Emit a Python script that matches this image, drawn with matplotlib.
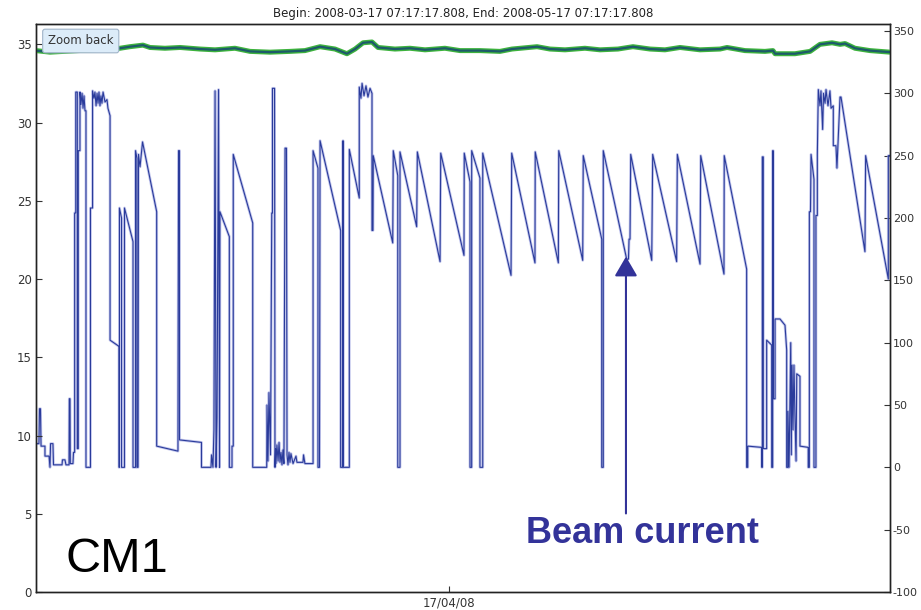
#!/usr/bin/env python

from datetime import datetime
import numpy as np
import matplotlib
matplotlib.use("Agg")
import matplotlib.pyplot as plt
import matplotlib.dates as mdates

plt.rcParams["axes.unicode_minus"] = False

# beam current (mA, right axis), time in days from left edge of plot
beam_days = [0.00, 0.21, 0.25, 0.32, 0.36, 0.64, 0.64, 0.93, 1.00, 1.04, 1.21, 1.25, 1.86, 1.89, 2.07, 2.14,
             2.36, 2.38, 2.43, 2.45, 2.64, 2.68, 2.76, 2.76, 2.84, 2.84, 2.95, 2.95, 3.02, 3.02, 3.14, 3.14,
             3.21, 3.29, 3.36, 3.43, 3.50, 3.57, 3.57, 3.89, 3.89, 4.04, 4.04, 4.14, 4.21, 4.29, 4.36, 4.43,
             4.50, 4.57, 4.64, 4.71, 4.79, 4.93, 5.07, 5.14, 5.29, 5.29, 5.93, 5.93, 5.96, 5.96, 6.11, 6.11,
             6.32, 6.32, 6.93, 6.93, 7.11, 7.11, 7.21, 7.21, 7.29, 7.32, 7.43, 7.61, 8.62, 8.62, 10.14, 10.18,
             10.25, 10.25, 11.82, 11.82, 12.50, 12.54, 12.64, 12.71, 12.79, 12.86, 12.93, 13.04, 13.11, 13.14,
             13.81, 13.81, 14.00, 14.00, 14.09, 14.09, 15.48, 15.48, 16.48, 16.50, 16.57, 16.64, 16.75, 16.84,
             16.89, 16.89, 17.04, 17.07, 17.11, 17.14, 17.21, 17.29, 17.36, 17.43, 17.50, 17.57, 17.64, 17.71,
             17.79, 17.89, 17.93, 18.00, 18.07, 18.14, 18.21, 18.36, 18.57, 18.64, 19.07, 19.11, 19.21, 19.79,
             19.79, 20.14, 20.14, 20.25, 20.29, 21.76, 21.76, 21.89, 21.93, 21.96, 22.38, 22.38, 23.09, 23.09,
             23.21, 23.29, 23.43, 23.57, 23.71, 23.86, 24.00, 24.00, 24.07, 24.09, 25.48, 25.52, 25.84, 25.84,
             26.00, 26.00, 27.19, 27.24, 28.86, 28.91, 30.57, 30.59, 31.00, 31.00, 31.12, 31.12, 31.71, 31.71,
             31.91, 31.91, 33.93, 33.98, 35.64, 35.66, 37.31, 37.34, 39.05, 39.09, 40.41, 40.41, 40.52, 40.52,
             42.19, 42.32, 42.36, 42.43, 42.48, 43.98, 44.05, 45.76, 45.81, 47.43, 47.48, 49.14, 49.16, 50.76,
             50.76, 50.84, 50.84, 51.84, 51.84, 51.88, 51.88, 51.95, 51.95, 52.19, 52.19, 52.55, 52.55, 52.62,
             52.62, 52.66, 52.66, 52.79, 52.79, 53.14, 53.50, 53.62, 53.62, 53.71, 53.71, 53.79, 53.91, 53.95,
             54.00, 54.07, 54.14, 54.21, 54.29, 54.34, 54.57, 54.57, 55.16, 55.16, 55.24, 55.24, 55.32, 55.36,
             55.57, 55.57, 55.71, 55.71, 55.81, 55.81, 55.88, 56.00, 56.07, 56.19, 56.25, 56.36, 56.43, 56.57,
             56.71, 56.79, 56.95, 56.95, 57.14, 57.21, 57.43, 57.50, 59.21, 59.26, 60.88, 60.88, 61.00]
beam_ma = [19, 19, 47, 47, 17, 17, 9, 9, 0, 19, 19, 2, 2, 6, 6, 2,
           2, 55, 55, 3, 3, 12, 12, 204, 204, 301, 301, 15, 15, 254, 254, 301,
           291, 300, 288, 298, 286, 286, 0, 0, 208, 208, 302, 296, 301, 290, 300, 292,
           301, 290, 298, 292, 301, 293, 295, 288, 282, 102, 97, 0, 0, 208, 200, 0,
           0, 208, 181, 0, 0, 254, 248, 0, 0, 251, 241, 261, 205, 17, 13, 254,
           254, 22, 20, 0, 0, 10, 0, 30, 302, 0, 40, 303, 0, 205,
           185, 0, 0, 17, 17, 251, 196, 0, 0, 50, 5, 60, 10, 204,
           204, 304, 304, 0, 15, 3, 18, 5, 20, 4, 12, 2, 14, 3,
           256, 256, 10, 2, 12, 4, 11, 3, 9, 4, 4, 10, 3, 3,
           254, 240, 0, 0, 262, 190, 0, 0, 262, 0, 0, 255, 216, 305,
           296, 308, 298, 306, 297, 304, 300, 190, 190, 250, 180, 254, 234, 0,
           0, 253, 193, 253, 165, 252, 170, 252, 229, 0, 0, 254, 232, 0,
           0, 252, 154, 252, 164, 253, 164, 254, 166, 250, 183, 0, 0, 254,
           167, 167, 183, 183, 251, 166, 251, 165, 251, 163, 250, 155, 250, 159,
           0, 0, 17, 16, 0, 0, 249, 249, 15, 15, 102, 98, 0, 0,
           254, 254, 55, 55, 119, 119, 114, 94, 0, 0, 45, 0, 100, 10,
           82, 30, 82, 42, 5, 75, 73, 17, 16, 0, 0, 205, 205, 251,
           231, 0, 0, 202, 202, 251, 303, 290, 302, 271, 300, 292, 303, 290,
           302, 288, 290, 258, 258, 240, 297, 297, 173, 250, 151, 250, 250]

# cavity temperature (left axis)
temp_days = [0.0, 1.0, 6.0, 6.71, 7.64, 8.14, 9.21, 10.29, 11.71, 12.79, 14.21, 15.29, 16.71, 18.14,
             19.21, 20.29, 21.36, 22.21, 22.79, 23.36, 24.0, 24.43, 25.64, 26.71, 27.79, 29.21, 30.29,
             31.71, 33.14, 34.0, 35.79, 36.71, 37.79, 39.21, 40.29, 41.57, 42.64, 43.86, 44.93, 46.0,
             47.43, 48.86, 49.36, 50.64, 52.07, 52.64, 52.79, 54.21, 55.29, 56.0, 56.86, 57.43, 57.79,
             58.5, 59.57, 61.0]
temp_c = [34.6, 34.5, 34.75, 34.85, 34.95, 34.8, 34.75, 34.8, 34.7, 34.65, 34.75, 34.55, 34.5, 34.55,
          34.6, 34.85, 34.7, 34.4, 34.7, 35.1, 35.15, 34.8, 34.7, 34.75, 34.65, 34.75, 34.6,
          34.6, 34.55, 34.7, 34.85, 34.7, 34.65, 34.75, 34.65, 34.7, 34.85, 34.7, 34.65, 34.8,
          34.65, 34.7, 34.8, 34.6, 34.55, 34.6, 34.4, 34.4, 34.55, 35.0, 35.1, 35.0, 35.05,
          34.75, 34.6, 34.5]

start = mdates.date2num(datetime(2008, 3, 18, 12, 0))
span_days = 61

fig = plt.figure(figsize=(9.21, 6.10), dpi=100)
ax = fig.add_axes([36/921, 18/610, 854/921, 568/610])
ax2 = ax.twinx()

t_beam = start + np.array(beam_days)
t_temp = start + np.array(temp_days)

ax.plot(t_temp, temp_c, color="#3db23d", lw=3.6, solid_joinstyle="round")
ax.plot(t_temp, temp_c, color="#1d5a6a", lw=1.6)

ax2.plot(t_beam, beam_ma, color="#9aa0e0", lw=2.0, alpha=0.6)
ax2.plot(t_beam, beam_ma, color="#2a3b9b", lw=0.8)

ax.set_xlim(start, start + span_days)
ax.set_ylim(0, 36.3)
ax2.set_ylim(-100, 355.6)
ax.set_yticks(np.arange(0, 36, 5))
ax2.set_yticks(np.arange(-100, 351, 50))
ax.set_xticks([mdates.date2num(datetime(2008, 4, 17))])
ax.xaxis.set_major_formatter(mdates.DateFormatter("%d/%m/%y"))

for a in (ax, ax2):
    a.tick_params(direction="in", length=4, labelsize=8.5, colors="#333333", pad=3)
    for s in a.spines.values():
        s.set_color("#222222")
        s.set_linewidth(1.0)
ax2.tick_params(labelsize=8, pad=2)
ax.set_zorder(ax2.get_zorder() + 1)
ax.patch.set_visible(False)

fig.text(463/921, 1 - 13/610, "Begin: 2008-03-17 07:17:17.808, End: 2008-05-17 07:17:17.808",
         ha="center", va="center", fontsize=8.5, color="#222222")

fig.text(48/921, 1 - 41/610, "Zoom back", ha="left", va="center", fontsize=8.5, color="#333333",
         bbox=dict(boxstyle="round,pad=0.45,rounding_size=0.2", facecolor="#dcecf9",
                   edgecolor="#9fb3c8", lw=0.8))

fig.text(65/921, 1 - 572/610, "CM1", ha="left", va="baseline", fontsize=35,
         family="Liberation Sans", color="black")

ax2.annotate("", xy=(start + 42.14, 169), xytext=(start + 42.14, -37),
             arrowprops=dict(arrowstyle="-|>,head_width=0.35,head_length=0.6", lw=1.5,
                             color="#333399", mutation_scale=20, shrinkA=0, shrinkB=0))
ax2.text(start + 43.35, -61, "Beam current", ha="center", va="baseline", fontsize=26,
         fontweight="bold", family="Liberation Sans", color="#333399")

fig.savefig("out.png", dpi=100)
